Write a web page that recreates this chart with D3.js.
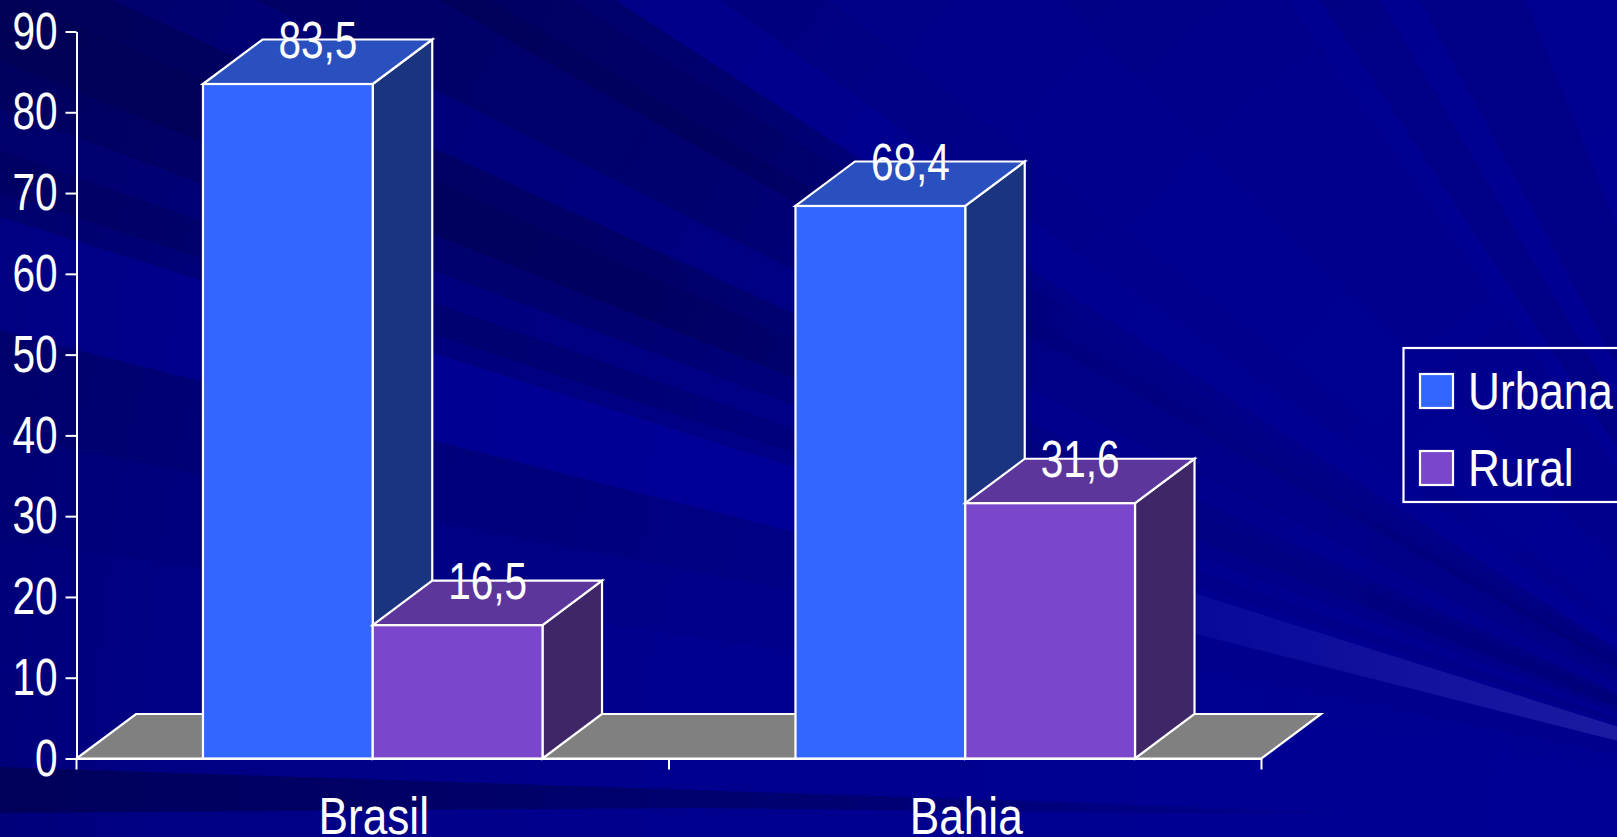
<!DOCTYPE html>
<html><head><meta charset="utf-8">
<style>html,body{margin:0;padding:0;background:#000090;overflow:hidden}svg{display:block}
text{font-family:"Liberation Sans",sans-serif;font-size:52px;fill:#fff}</style>
<script src="https://cdn.jsdelivr.net/npm/d3@7"></script></head><body>
<svg id="c" width="1617" height="837"></svg>
<script>
const categories = ["Brasil", "Bahia"];
const seriesNames = ["Urbana", "Rural"];
const urbana = [83.5, 68.4];
const rural = [16.5, 31.6];
const valueLabels = {Urbana:["83,5","68,4"], Rural:["16,5","31,6"]};
const yTicks = [0,10,20,30,40,50,60,70,80,90];
const frontColors = ["#3366ff", "#7a47cc"];
const topColors = ["#2a50bf", "#5c369a"];
const sideColors = ["#1a347f", "#3e2667"];
const floorColor = "#808080";

const W = 1617, H = 837, NARROW = 0.78, WIDE = 0.85;
const svg = d3.select("#c");
const defs = svg.append("defs");

// background: rays converging on a focus beyond the lower right corner
const F = [1850, 800];
const base = defs.append("radialGradient").attr("id","bg").attr("gradientUnits","userSpaceOnUse")
  .attr("cx",F[0]).attr("cy",F[1]).attr("r",2000);
[[0,"#000096"],[.6,"#00008e"],[.85,"#000084"],[1,"#000070"]].forEach(s=>base.append("stop").attr("offset",s[0]).attr("stop-color",s[1]));
const dk = defs.append("radialGradient").attr("id","dk").attr("gradientUnits","userSpaceOnUse")
  .attr("cx",F[0]).attr("cy",F[1]).attr("r",2000);
[[0,.5],[.3,.22],[.45,.22],[.65,.8],[1,1]].forEach(s=>dk.append("stop").attr("offset",s[0]).attr("stop-color","#000050").attr("stop-opacity",s[1]));
const lt = defs.append("linearGradient").attr("id","lt").attr("gradientUnits","userSpaceOnUse")
  .attr("x1",0).attr("x2",W).attr("y1",0).attr("y2",0);
[[0,"#000094",.4],[.5,"#000098",1],[.75,"#0a0a9a",1],[1,"#1a1aa2",1]].forEach(s=>lt.append("stop").attr("offset",s[0]).attr("stop-color",s[1]).attr("stop-opacity",s[2]));
const bl = defs.append("linearGradient").attr("id","bl").attr("gradientUnits","userSpaceOnUse")
  .attr("x1",0).attr("x2",1430).attr("y1",0).attr("y2",0);
[[0,.75],[.6,.45],[1,0]].forEach(s=>bl.append("stop").attr("offset",s[0]).attr("stop-color","#000050").attr("stop-opacity",s[1]));

const rays = [
  [[430,87],[490,0],"url(#dk)",.6],
  [[490,0],[570,0],"url(#dk)",.3],
  [[720,0],[830,0],"url(#dk)",.25],
  [[830,0],[1060,0],"url(#dk)",.12],
  [[1060,0],[1287,0],"url(#dk)",.28],
  [[1320,0],[1380,0],"url(#dk)",.7],
  [[1420,0],[1525,0],"url(#dk)",.7],
  [[1224,550],[1307,550],"url(#dk)",.6],
  [[1409,550],[1464,550],"url(#dk)",.6],
  [[432,87],[432,180],"url(#dk)",.25],
  [[432,180],[432,270],"url(#dk)",.55],
  [[432,270],[432,353],"url(#dk)",.2],
  [[0,150],[0,192],"url(#dk)",.35],
  [[432,440],[432,520],"url(#dk)",.3],
  [[432,520],[432,600],"url(#dk)",.12],
  [[432,353],[432,440],"url(#lt)",1]
];
const far = (p) => [F[0]+(p[0]-F[0])*8, F[1]+(p[1]-F[1])*8];
svg.append("rect").attr("width",W).attr("height",H).attr("fill","url(#bg)");
svg.append("g").selectAll("polygon").data(rays).join("polygon")
  .attr("points",d=>[F,far(d[0]),far(d[1])].join(" "))
  .attr("fill",d=>d[2]).attr("opacity",d=>d[3]);
svg.append("polygon").attr("points","0,767 0,813 700,808 1430,816 1000,800").attr("fill","url(#bl)");

// scales
const y = d3.scaleLinear().domain([0,90]).range([758.5,31.5]);
const x0 = d3.scaleBand().domain(categories).range([76.5,1261.5]);
const x1 = d3.scaleBand().domain(seriesNames).range([0,x0.bandwidth()]).paddingInner(0).paddingOuter(.745);
const dx = 59.5, dy = 44.5;
const rows = [urbana, rural];
const line = {stroke:"#fff","stroke-width":2.2,"stroke-linejoin":"miter"};
const sty = s => { Object.entries(line).forEach(([k,v])=>s.attr(k,v)); return s; };
const narrow = (x,yy,k=NARROW) => `translate(${x},${yy}) scale(${k},1)`;

// floor
sty(svg.append("polygon")).attr("fill",floorColor)
  .attr("points",[[x0.range()[0],y(0)],[x0.range()[1],y(0)],[x0.range()[1]+dx,y(0)-dy],[x0.range()[0]+dx,y(0)-dy]].join(" "));

// bars
const bars = [];
categories.forEach((c,i)=>seriesNames.forEach((s,j)=>bars.push({c,s,j,v:rows[j][i],label:valueLabels[s][i]})));
const g = svg.append("g").selectAll("g").data(bars).join("g");
g.each(function(d){
  const a = x0(d.c)+x1(d.s), b = a+x1.bandwidth(), t = y(d.v), o = y(0), s = d3.select(this);
  sty(s.append("polygon")).attr("fill",sideColors[d.j])
    .attr("points",[[b,t],[b+dx,t-dy],[b+dx,o-dy],[b,o]].join(" "));
  sty(s.append("polygon")).attr("fill",topColors[d.j])
    .attr("points",[[a,t],[a+dx,t-dy],[b+dx,t-dy],[b,t]].join(" "));
  sty(s.append("rect")).attr("fill",frontColors[d.j])
    .attr("x",a).attr("y",t).attr("width",b-a).attr("height",o-t);
});

// axes
const ay = svg.append("g").attr("transform",`translate(${x0.range()[0]},0)`)
  .call(d3.axisLeft(y).tickValues(yTicks).tickSize(11).tickSizeOuter(0));
ay.attr("font-size",null).attr("font-family",null);
ay.select(".domain").attr("stroke","#fff").attr("stroke-width",2);
ay.selectAll("line").attr("stroke","#fff").attr("stroke-width",2);
ay.selectAll("text").attr("x",null).attr("transform",narrow(-19,0));

const ax = svg.append("g").attr("transform",`translate(0,${y(0)})`)
  .call(d3.axisBottom(x0).tickSize(0).tickPadding(0));
ax.attr("font-size",null).attr("font-family",null);
ax.select(".domain").attr("stroke","#fff").attr("stroke-width",2);
ax.selectAll("text").attr("dy",null).attr("y",null).attr("transform",narrow(1,75,WIDE));
const edges = [...categories.map(c=>x0(c)), x0.range()[1]];
ax.selectAll("line.edge").data(edges).join("line").attr("class","edge")
  .attr("x1",d=>d).attr("x2",d=>d).attr("y1",0).attr("y2",11).attr("stroke","#fff").attr("stroke-width",2);

// value labels
svg.append("g").selectAll("text").data(bars).join("text")
  .attr("text-anchor","middle")
  .attr("transform",d=>narrow(x0(d.c)+x1(d.s)+x1.bandwidth()/2+30,y(d.v)-26))
  .text(d=>d.label);

// legend
const lg = svg.append("g");
sty(lg.append("rect")).attr("x",1403.5).attr("y",348).attr("width",300).attr("height",154).attr("fill","none");
const ly = d3.scalePoint().domain(seriesNames).range([391,468]);
const li = lg.selectAll("g").data(seriesNames).join("g").attr("transform",d=>`translate(0,${ly(d)})`);
sty(li.append("rect")).attr("x",1420).attr("y",-17).attr("width",33).attr("height",34).attr("fill",(d,i)=>frontColors[i]);
li.append("text").attr("transform",narrow(1468,18,WIDE)).text(d=>d);
</script></body></html>
